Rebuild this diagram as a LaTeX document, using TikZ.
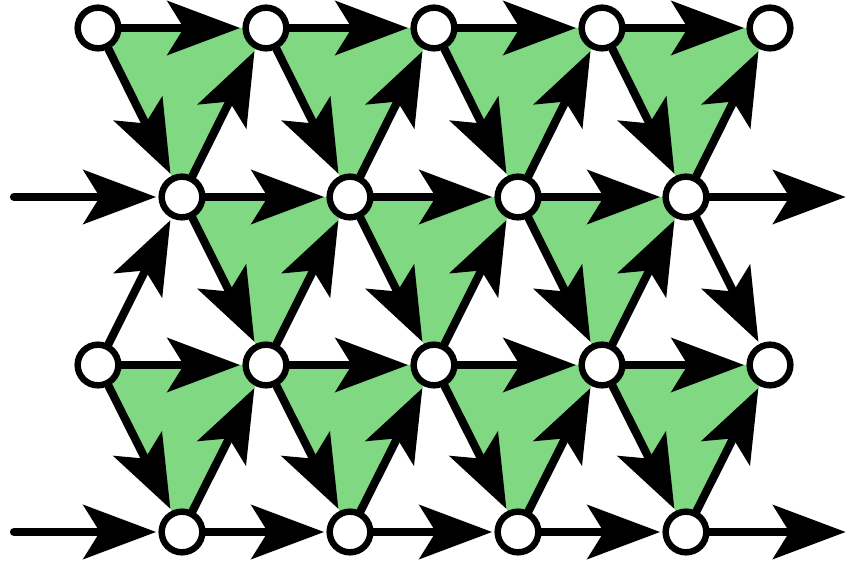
\documentclass[tikz,border=0pt]{standalone}
\usepackage{xcolor}
\usepackage{tikz}
\usetikzlibrary{arrows.meta,backgrounds}
\definecolor{facegreen}{HTML}{80D883}
\definecolor{ink}{HTML}{000000}

\begin{document}
\begin{tikzpicture}[
    x=0.03cm,y=0.03cm,
    site/.style={circle,draw=ink,fill=white,line width=5.5pt,minimum size=1.22cm,inner sep=0pt},
    arc/.style={draw=ink,line width=7pt,line cap=round,shorten >=2pt,
        -{Stealth[length=62pt,width=46pt,inset=14pt]}},
    face/.style={fill=facegreen}
]
\useasboundingbox (0,0) rectangle (848,562);
% top row
\node[site] (a1) at (98,534) {};
\node[site] (a2) at (266,534) {};
\node[site] (a3) at (434,534) {};
\node[site] (a4) at (602,534) {};
\node[site] (a5) at (770,534) {};
% second row
\node[site] (b1) at (182,365) {};
\node[site] (b2) at (350,365) {};
\node[site] (b3) at (518,365) {};
\node[site] (b4) at (686,365) {};
% third row
\node[site] (c1) at (98,197) {};
\node[site] (c2) at (266,197) {};
\node[site] (c3) at (434,197) {};
\node[site] (c4) at (602,197) {};
\node[site] (c5) at (770,197) {};
% bottom row
\node[site] (d1) at (182,30) {};
\node[site] (d2) at (350,30) {};
\node[site] (d3) at (518,30) {};
\node[site] (d4) at (686,30) {};
\coordinate (bin) at (14,365);
\coordinate (bout) at (848,365);
\coordinate (din) at (14,30);
\coordinate (dout) at (848,30);

% green faces
\begin{scope}[on background layer]
\fill[face] (a1.center) -- (a2.center) -- (b1.center) -- cycle;
\fill[face] (a2.center) -- (a3.center) -- (b2.center) -- cycle;
\fill[face] (a3.center) -- (a4.center) -- (b3.center) -- cycle;
\fill[face] (a4.center) -- (a5.center) -- (b4.center) -- cycle;
\fill[face] (b1.center) -- (b2.center) -- (c2.center) -- cycle;
\fill[face] (b2.center) -- (b3.center) -- (c3.center) -- cycle;
\fill[face] (b3.center) -- (b4.center) -- (c4.center) -- cycle;
\fill[face] (c1.center) -- (c2.center) -- (d1.center) -- cycle;
\fill[face] (c2.center) -- (c3.center) -- (d2.center) -- cycle;
\fill[face] (c3.center) -- (c4.center) -- (d3.center) -- cycle;
\fill[face] (c4.center) -- (c5.center) -- (d4.center) -- cycle;
\end{scope}

% oriented bonds
\path (a1) edge[arc] (a2) edge[arc] (b1);
\path (a2) edge[arc] (a3) edge[arc] (b2);
\path (a3) edge[arc] (a4) edge[arc] (b3);
\path (a4) edge[arc] (a5) edge[arc] (b4);
\path (bin) edge[arc] (b1);
\path (b1) edge[arc] (a2) edge[arc] (b2) edge[arc] (c2);
\path (b2) edge[arc] (a3) edge[arc] (b3) edge[arc] (c3);
\path (b3) edge[arc] (a4) edge[arc] (b4) edge[arc] (c4);
\path (b4) edge[arc] (a5) edge[arc] (bout) edge[arc] (c5);
\path (c1) edge[arc] (b1) edge[arc] (c2) edge[arc] (d1);
\path (c2) edge[arc] (b2) edge[arc] (c3) edge[arc] (d2);
\path (c3) edge[arc] (b3) edge[arc] (c4) edge[arc] (d3);
\path (c4) edge[arc] (b4) edge[arc] (c5) edge[arc] (d4);
\path (din) edge[arc] (d1);
\path (d1) edge[arc] (c2) edge[arc] (d2);
\path (d2) edge[arc] (c3) edge[arc] (d3);
\path (d3) edge[arc] (c4) edge[arc] (d4);
\path (d4) edge[arc] (c5) edge[arc] (dout);
\end{tikzpicture}
\end{document}
